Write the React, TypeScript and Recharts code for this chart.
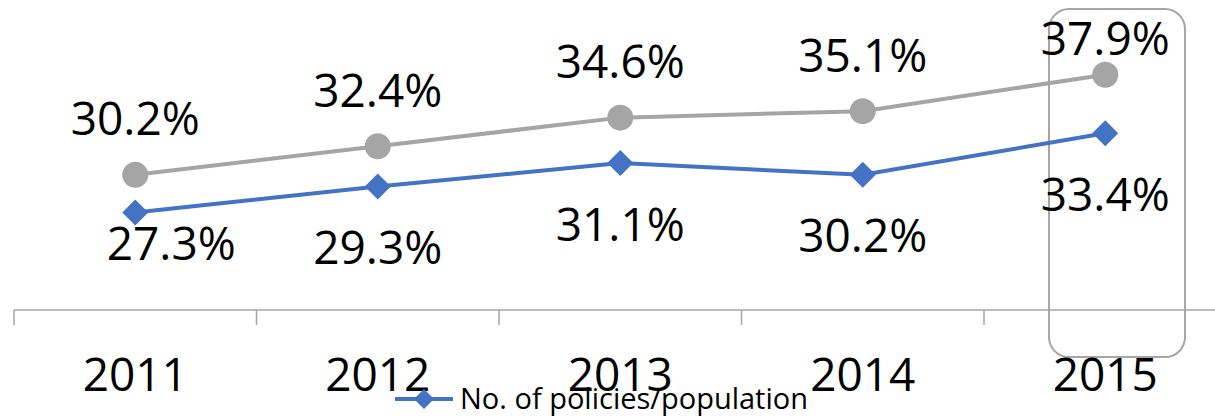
import { LineChart, Line, XAxis, YAxis, LabelList, Legend, ReferenceArea } from 'recharts';

const years = ['2011', '2012', '2013', '2014', '2015'];
const policiesPerPopulation = [27.3, 29.3, 31.1, 30.2, 33.4];
const upperSeries = [30.2, 32.4, 34.6, 35.1, 37.9];

const BLUE = '#4472C4';
const GRAY = '#A5A5A5';
const AXIS = '#A6A6A6';
const FONT = '"Open Sans", "DejaVu Sans", sans-serif';
const LABEL_SIZE = 46;

const data = years.map((year, i) => ({
  x: i + 0.5,
  year,
  policies: policiesPerPopulation[i],
  upper: upperSeries[i],
}));

const DiamondDot = (props: any) => {
  const { cx, cy } = props;
  if (cx == null || cy == null) return null;
  const r = 13;
  return (
    <polygon
      points={`${cx},${cy - r} ${cx + r},${cy} ${cx},${cy + r} ${cx - r},${cy}`}
      fill={BLUE}
    />
  );
};

const CircleDot = (props: any) => {
  const { cx, cy } = props;
  if (cx == null || cy == null) return null;
  return <circle cx={cx} cy={cy} r={13} fill={GRAY} />;
};

// label placement, hand tuned like the original
const UpperLabel = (props: any) => {
  const { x, y, value, index } = props;
  const off = index === 4 ? -36 : -56;
  return (
    <text x={x} y={y + off + 16.5} textAnchor="middle" fontSize={LABEL_SIZE} fontFamily={FONT} fill="#000">
      {`${Number(value).toFixed(1)}%`}
    </text>
  );
};

const LowerLabel = (props: any) => {
  const { x, y, value, index } = props;
  const dx = index === 0 ? 36 : 0;
  const dy = index === 0 ? 31 : 61;
  return (
    <text x={x + dx} y={y + dy + 16.5} textAnchor="middle" fontSize={LABEL_SIZE} fontFamily={FONT} fill="#000">
      {`${Number(value).toFixed(1)}%`}
    </text>
  );
};

const LegendContent = () => (
  <svg width={420} height={40} style={{ display: 'block', overflow: 'visible' }}>
    <line x1={0} y1={16} x2={58} y2={16} stroke={BLUE} strokeWidth={4} />
    <polygon points="29,6 39,16 29,26 19,16" fill={BLUE} />
    <text x={65} y={26} fontSize={29} fontFamily={FONT} fill="#000">
      No. of policies/population
    </text>
  </svg>
);

const RoundedBox = (props: any) => {
  const { x, y, width, height } = props;
  return (
    <rect x={x} y={y} width={width} height={height} rx={20} ry={20} fill="none" stroke={AXIS} strokeWidth={2} />
  );
};

export default function App() {
  return (
    <div style={{ width: 1215, height: 416, overflow: 'hidden', position: 'relative', background: '#fff' }}>
      <style>{'body{margin:0}'}</style>
      <LineChart width={1240} height={416} data={data} margin={{ top: 0, right: 13.5, left: 14, bottom: 0 }}>
        <XAxis
          xAxisId="edges"
          dataKey="x"
          type="number"
          domain={[0, 5]}
          ticks={[0, 1, 2, 3, 4, 5]}
          interval={0}
          height={15}
          tickSize={15}
          tickFormatter={() => ''}
          stroke={AXIS}
          axisLine={{ stroke: AXIS, strokeWidth: 1.5 }}
          tickLine={{ stroke: AXIS, strokeWidth: 1.5 }}
        />
        <XAxis
          xAxisId="labels"
          dataKey="x"
          type="number"
          domain={[0, 5]}
          ticks={[0.5, 1.5, 2.5, 3.5, 4.5]}
          interval={0}
          height={91}
          axisLine={false}
          tickLine={false}
          tickSize={0}
          tickMargin={33}
          tickFormatter={(v: number) => years[Math.floor(v)]}
          tick={{ fontSize: LABEL_SIZE, fontFamily: FONT, fill: '#000' }}
        />
        <YAxis hide type="number" domain={[19.8, 43.65]} allowDataOverflow />
        <Legend
          layout="horizontal"
          verticalAlign="middle"
          align="center"
          content={<LegendContent />}
          wrapperStyle={{ position: 'absolute', top: 383, left: 395, width: 420, height: 40 }}
        />
        <ReferenceArea
          xAxisId="edges"
          x1={4.268}
          x2={4.829}
          y1={16.18}
          y2={42.95}
          ifOverflow="visible"
          shape={<RoundedBox />}
        />
        <Line
          xAxisId="edges"
          dataKey="upper"
          stroke={GRAY}
          strokeWidth={4}
          dot={<CircleDot />}
          activeDot={false}
          isAnimationActive={false}
          legendType="none"
        >
          <LabelList dataKey="upper" content={<UpperLabel />} />
        </Line>
        <Line
          xAxisId="edges"
          dataKey="policies"
          name="No. of policies/population"
          stroke={BLUE}
          strokeWidth={4}
          dot={<DiamondDot />}
          activeDot={false}
          isAnimationActive={false}
        >
          <LabelList dataKey="policies" content={<LowerLabel />} />
        </Line>
      </LineChart>
    </div>
  );
}
